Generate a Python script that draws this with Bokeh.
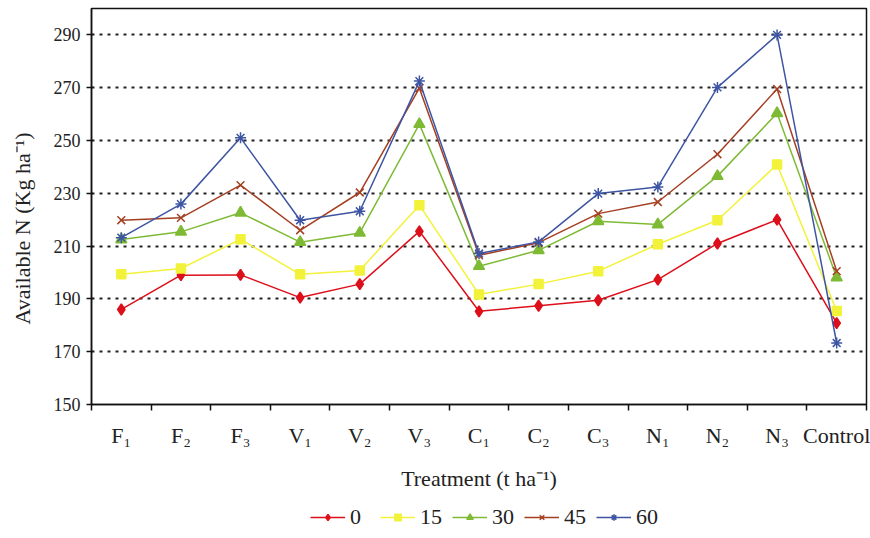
from bokeh.plotting import figure
from bokeh.layouts import column
from bokeh.models import FixedTicker, Legend, LegendItem
from bokeh.embed import file_html
from bokeh.resources import INLINE

# ---- data ----
categories = ["F₁", "F₂", "F₃", "V₁", "V₂", "V₃", "C₁", "C₂", "C₃", "N₁", "N₂", "N₃", "Control"]
n_0 = [186.0, 199.0, 199.1, 190.5, 195.6, 215.6, 185.3, 187.4, 189.5, 197.3, 211.0, 220.0, 180.8]
n_15 = [199.3, 201.5, 212.6, 199.3, 200.8, 225.5, 191.7, 195.6, 200.5, 210.7, 219.8, 240.9, 185.4]
n_30 = [212.5, 215.4, 222.6, 211.5, 215.0, 256.2, 202.4, 208.4, 219.4, 218.2, 236.5, 260.3, 198.1]
n_45 = [219.8, 220.7, 233.1, 216.0, 230.3, 269.8, 206.5, 211.3, 222.3, 226.7, 244.8, 269.5, 200.5]
n_60 = [213.2, 225.9, 251.0, 219.8, 223.2, 272.5, 207.2, 211.6, 229.9, 232.4, 270.1, 290.0, 173.3]
series_labels = ["0", "15", "30", "45", "60"]
y_ticks = [150, 170, 190, 210, 230, 250, 270, 290]
grid_ticks = [170, 190, 210, 230, 250, 270, 290]

series = [n_0, n_15, n_30, n_45, n_60]
colors = ["#DC0F1A", "#F2F23A", "#7FBA35", "#A53F22", "#3E55A3"]
markers = ["diamond", "square", "triangle", "x", "asterisk"]
sizes = [11, 9, 11, 11, 11]

FONT = "Liberation Serif"
x_pos = [i + 1 for i in range(len(categories))]

p = figure(width=870, height=500, frame_width=775, frame_height=396,
           x_range=(0.5, len(categories) + 0.5), y_range=(150, 300),
           output_backend="svg", toolbar_location=None,
           min_border_left=91, min_border_right=4, min_border_top=8, min_border_bottom=96)

p.background_fill_color = "white"
p.border_fill_color = "white"
p.outline_line_color = "#111111"
p.outline_line_width = 1.5
p.outline_line_alpha = 1.0

for vals, col, mk, sz in zip(series, colors, markers, sizes):
    p.line(x_pos, vals, line_color=col, line_width=1.5)
    p.scatter(x_pos, vals, marker=mk, size=sz, fill_color=col, line_color=col, line_width=1.5)

# grid
p.xgrid.visible = False
p.ygrid.ticker = FixedTicker(ticks=grid_ticks)
p.ygrid.grid_line_color = "#222222"
p.ygrid.grid_line_width = 2
p.ygrid.grid_line_dash = "3 5"

# y axis
ya = p.yaxis[0]
ya.ticker = FixedTicker(ticks=y_ticks)
ya.axis_label = "Available N (Kg ha⁻¹)" + " " * 8
ya.axis_label_text_font = FONT
ya.axis_label_text_font_style = "normal"
ya.axis_label_text_font_size = "22px"
ya.axis_label_text_color = "#222222"
ya.axis_label_standoff = 16
ya.major_label_text_font = FONT
ya.major_label_text_font_size = "18px"
ya.major_label_text_color = "#222222"
ya.major_label_standoff = 6
ya.major_tick_in = 1
ya.major_tick_out = 5
ya.minor_tick_line_color = None
ya.axis_line_color = "#111111"
ya.axis_line_width = 1.5
ya.major_tick_line_color = "#111111"
ya.major_tick_line_width = 1.5

# x axis: labels at centres, ticks at boundaries
xa = p.xaxis[0]
xa.ticker = FixedTicker(ticks=x_pos, minor_ticks=[i + 0.5 for i in range(len(categories) + 1)])
xa.major_label_overrides = {x: c for x, c in zip(x_pos, categories)}
xa.major_tick_in = 0
xa.major_tick_out = 0
xa.minor_tick_in = 0
xa.minor_tick_out = 6
xa.minor_tick_line_color = "#111111"
xa.minor_tick_line_width = 1.5
xa.axis_line_color = "#111111"
xa.axis_line_width = 1.5
xa.major_label_text_font = FONT
xa.major_label_text_font_size = "22px"
xa.major_label_text_color = "#222222"
xa.major_label_standoff = 12
xa.axis_label = "Treatment (t ha⁻¹)"
xa.axis_label_text_font = FONT
xa.axis_label_text_font_style = "normal"
xa.axis_label_text_font_size = "22px"
xa.axis_label_text_color = "#222222"
xa.axis_label_standoff = 15

# legend strip below the chart (series drawn off-range so only legend icons show)
lg = figure(width=870, height=38, frame_width=775, x_range=(0, 1), y_range=(0, 1),
            output_backend="svg", toolbar_location=None,
            min_border_left=91, min_border_right=4, min_border_top=0, min_border_bottom=0)
lg.axis.visible = False
lg.grid.visible = False
lg.outline_line_color = None
lg.background_fill_color = "white"
lg.border_fill_color = "white"
items = []
for vals, lab, col, mk, sz in zip(series, series_labels, colors, markers, sizes):
    r_line = lg.line(x_pos, vals, line_color=col, line_width=1.5)
    r_pts = lg.scatter(x_pos, vals, marker=mk, size=sz, fill_color=col, line_color=col, line_width=1.5)
    items.append(LegendItem(label=lab, renderers=[r_line, r_pts]))
legend = Legend(items=items, orientation="horizontal", location=(219, 8),
                label_text_font=FONT, label_text_font_size="22px", label_text_color="#222222",
                glyph_width=35, glyph_height=16, spacing=10, label_standoff=5, label_height=16,
                border_line_color=None, background_fill_alpha=0, margin=0, padding=2)
lg.add_layout(legend, "center")

layout = column(p, lg, spacing=0)
open("out.html", "w").write(file_html(layout, INLINE))
